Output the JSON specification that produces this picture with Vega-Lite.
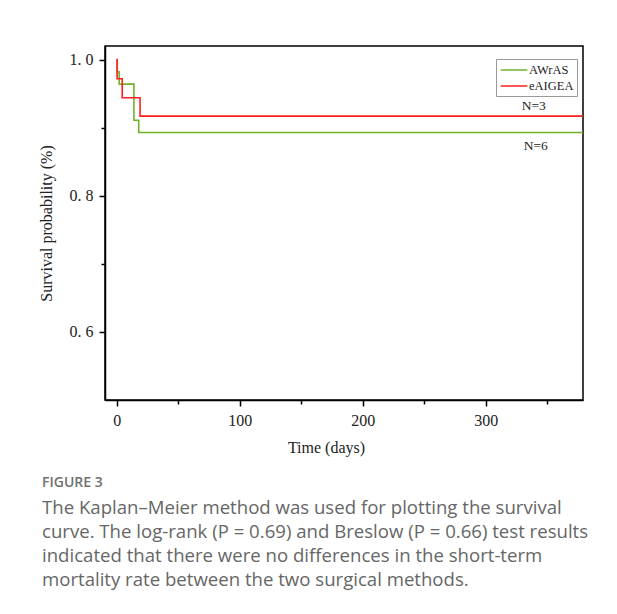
{
  "$schema": "https://vega.github.io/schema/vega-lite/v6.json",
  "width": 478,
  "height": 354,
  "autosize": {"type": "none"},
  "padding": {"left": 105, "top": 46, "right": 34, "bottom": 214},
  "background": "white",
  "config": {
    "view": {"stroke": "black", "strokeWidth": 1.5},
    "axis": {
      "labelFont": "Liberation Serif",
      "titleFont": "Liberation Serif",
      "labelFontSize": 16,
      "titleFontSize": 16,
      "titleFontWeight": "normal",
      "labelColor": "#222",
      "titleColor": "#222",
      "domainColor": "black",
      "domainWidth": 1.5,
      "tickColor": "black",
      "tickWidth": 1.5,
      "grid": false
    }
  },
  "title": {
    "text": "FIGURE 3",
    "subtitle": [
      "The Kaplan–Meier method was used for plotting the survival",
      "curve. The log-rank (P = 0.69) and Breslow (P = 0.66) test results",
      "indicated that there were no differences in the short-term",
      "mortality rate between the two surgical methods."
    ],
    "orient": "bottom",
    "anchor": "start",
    "frame": "group",
    "dx": -63,
    "offset": 21,
    "font": "Open Sans",
    "fontSize": 14,
    "fontWeight": 600,
    "color": "#707070",
    "subtitleFont": "Open Sans",
    "subtitleFontSize": 18.6,
    "subtitleColor": "#666666",
    "subtitleLineHeight": 24,
    "subtitlePadding": 9
  },
  "datasets": {
    "km": [
      {"time": 0, "surv": 1.0, "group": "AWrAS"},
      {"time": 0.5, "surv": 0.982, "group": "AWrAS"},
      {"time": 2, "surv": 0.964, "group": "AWrAS"},
      {"time": 14, "surv": 0.911, "group": "AWrAS"},
      {"time": 17.9, "surv": 0.893, "group": "AWrAS"},
      {"time": 379, "surv": 0.893, "group": "AWrAS"},
      {"time": 0, "surv": 1.0, "group": "eAIGEA"},
      {"time": 0.3, "surv": 0.972, "group": "eAIGEA"},
      {"time": 4.5, "surv": 0.944, "group": "eAIGEA"},
      {"time": 19, "surv": 0.917, "group": "eAIGEA"},
      {"time": 379, "surv": 0.917, "group": "eAIGEA"}
    ],
    "labels": [
      {"time": 339, "surv": 0.9314, "label": "N=3"},
      {"time": 340.6, "surv": 0.8727, "label": "N=6"}
    ]
  },
  "layer": [
    {
      "data": {"name": "km"},
      "mark": {"type": "line", "interpolate": "step-after", "strokeWidth": 1.6, "clip": true},
      "encoding": {
        "x": {
          "field": "time",
          "type": "quantitative",
          "scale": {"domain": [-9.5, 379], "nice": false, "zero": false},
          "axis": {
            "title": "Time (days)",
            "values": [0, 50, 100, 150, 200, 250, 300, 350],
            "labelExpr": "datum.value % 100 === 0 ? datum.label : ''",
            "tickSize": {"condition": {"test": "datum.value % 100 === 0", "value": 6}, "value": 4},
            "labelPadding": 6,
            "titlePadding": 11,
            "titleX": 221,
            "titleAlign": "center",
            "labelFlush": false
          }
        },
        "y": {
          "field": "surv",
          "type": "quantitative",
          "scale": {"domain": [0.5, 1.02], "nice": false, "zero": false},
          "axis": {
            "title": "Survival probability (%)",
            "values": [0.6, 0.7, 0.8, 0.9, 1.0],
            "labelExpr": "round(datum.value * 10) % 2 === 0 ? replace(format(datum.value, '.1f'), '.', '. ') : ''",
            "tickSize": {"condition": {"test": "round(datum.value * 10) % 2 === 0", "value": 6}, "value": 4},
            "labelPadding": 6,
            "titlePadding": 15,
            "labelFlush": false
          }
        },
        "color": {
          "field": "group",
          "type": "nominal",
          "scale": {"domain": ["AWrAS", "eAIGEA"], "range": ["#72b02c", "#ff1f1f"]},
          "legend": {
            "title": null,
            "orient": "none",
            "legendX": 391,
            "legendY": 13,
            "symbolType": "M-1.9,0H1.9",
            "symbolSize": 196,
            "symbolStrokeWidth": 1.5,
            "symbolOffset": 7,
            "labelFont": "Liberation Serif",
            "labelFontSize": 12.5,
            "labelColor": "#222",
            "labelOffset": 7,
            "rowPadding": 1,
            "padding": 3,
            "strokeColor": "#999999",
            "fillColor": "white"
          }
        },
        "order": {"field": "group", "sort": "descending"}
      }
    },
    {
      "data": {"name": "labels"},
      "mark": {"type": "text", "font": "Liberation Serif", "fontSize": 13.5, "color": "#222"},
      "encoding": {
        "x": {"field": "time", "type": "quantitative"},
        "y": {"field": "surv", "type": "quantitative"},
        "text": {"field": "label"}
      }
    }
  ]
}
